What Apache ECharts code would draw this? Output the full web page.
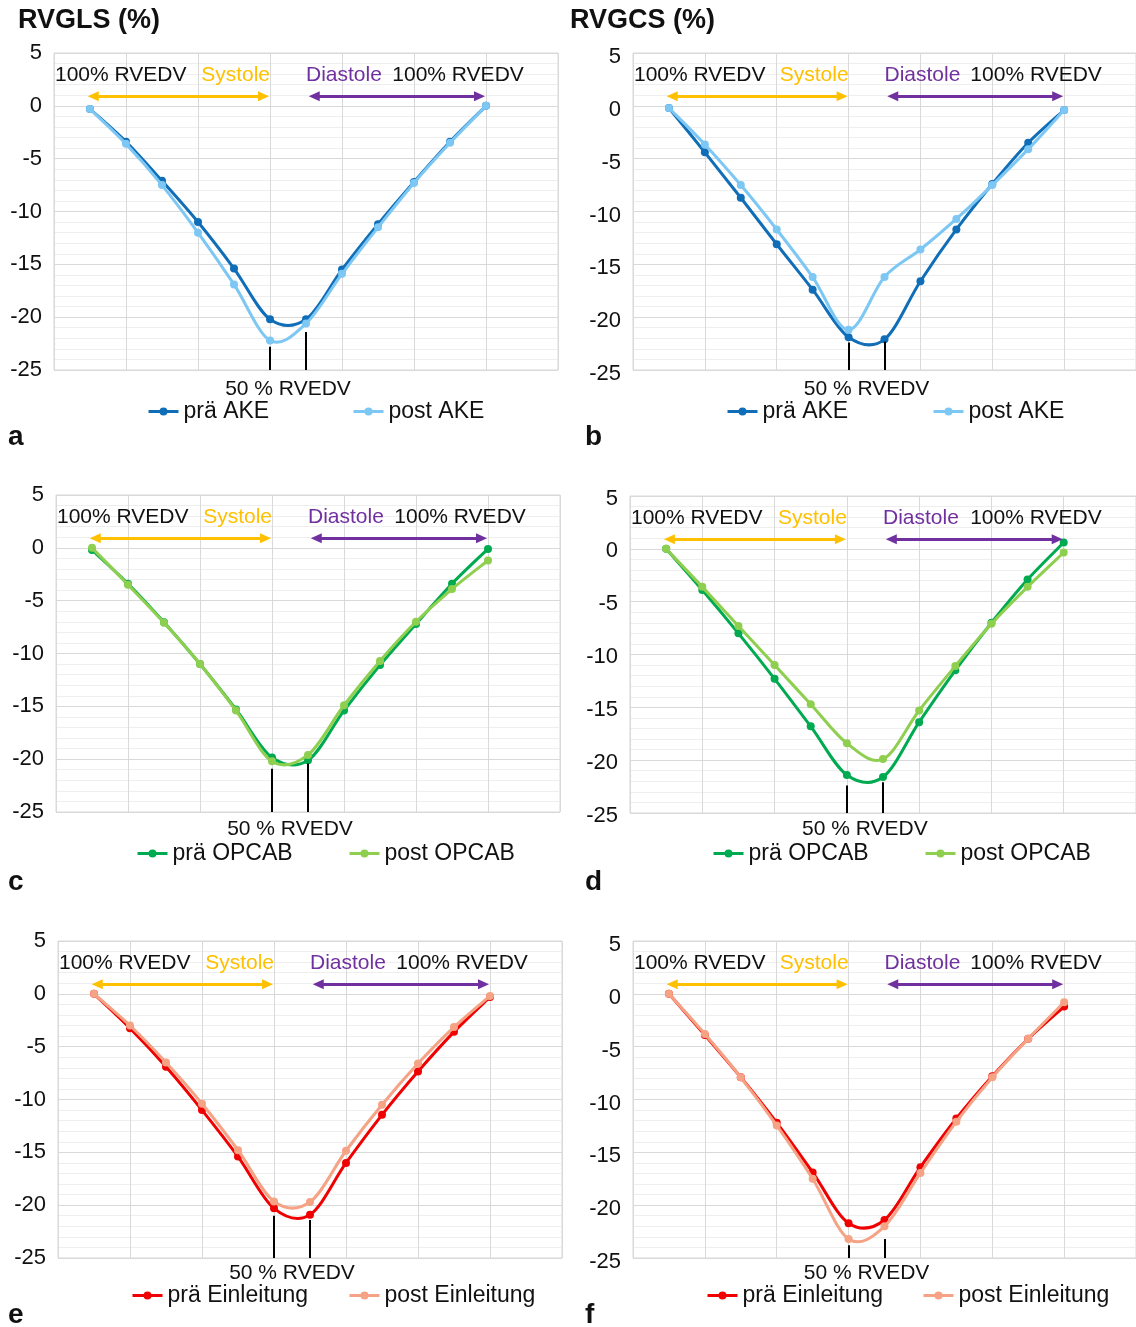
<!DOCTYPE html>
<html>
<head>
<meta charset="utf-8">
<script src="https://cdn.jsdelivr.net/npm/echarts@6/dist/echarts.min.js"></script>
<style>
html,body{margin:0;padding:0;background:#fff;}
#c{width:1136px;height:1327px;}
</style>
</head>
<body>
<div id="c"></div>
<script>
// ---- data ----
const xPoints = [1,2,3,4,5,6,7,8,9,10,11,12];
const yTickMin = -25, yTickMax = 5, yTickStep = 5;

const aPre  = [-0.3,-3.4,-7.1,-11.0,-15.4,-20.2,-20.2,-15.5,-11.2,-7.2,-3.4,0.0];
const aPost = [-0.3,-3.6,-7.5,-12.0,-16.9,-22.2,-20.6,-15.9,-11.5,-7.3,-3.5,0.0];
const bPre  = [-0.2,-4.4,-8.7,-13.1,-17.4,-21.9,-22.1,-16.6,-11.7,-7.4,-3.5,-0.4];
const bPost = [-0.2,-3.65,-7.5,-11.7,-16.2,-21.2,-16.2,-13.6,-10.7,-7.5,-4.1,-0.4];
const cPre  = [-0.2,-3.4,-7.05,-11.0,-15.3,-19.85,-20.1,-15.4,-11.1,-7.2,-3.4,-0.1];
const cPost = [0.0,-3.5,-7.1,-11.0,-15.4,-20.2,-19.6,-14.9,-10.7,-7.0,-3.9,-1.2];
const dPre  = [0.0,-3.9,-8.0,-12.3,-16.8,-21.4,-21.6,-16.4,-11.5,-7.0,-2.9,0.6];
const dPost = [0.0,-3.6,-7.3,-11.0,-14.7,-18.4,-19.9,-15.3,-11.1,-7.1,-3.6,-0.35];
const ePre  = [0.0,-3.25,-6.9,-11.0,-15.4,-20.3,-20.9,-16.0,-11.45,-7.35,-3.6,-0.3];
const ePost = [0.0,-3.0,-6.5,-10.4,-14.8,-19.65,-19.7,-14.85,-10.5,-6.6,-3.15,-0.2];
const fPre  = [0.0,-3.9,-7.9,-12.2,-16.9,-21.7,-21.4,-16.4,-11.8,-7.8,-4.25,-1.2];
const fPost = [0.0,-3.8,-7.9,-12.45,-17.5,-23.2,-22.0,-16.95,-12.1,-7.9,-4.25,-0.8];

// top ends of the two black markers at 50 % RVEDV (x = 6 and x = 7)
const aMarks = [-22.8,-21.4];
const bMarks = [-22.4,-22.3];
const cMarks = [-20.9,-20.4];
const dMarks = [-22.4,-22.1];
const eMarks = [-21.0,-21.4];
const fMarks = [-23.8,-23.2];

const namesAKE = ['prä AKE','post AKE'];
const namesOPCAB = ['prä OPCAB','post OPCAB'];
const namesEin = ['prä Einleitung','post Einleitung'];
const titles = ['RVGLS (%)','RVGCS (%)'];
const letters = ['a','b','c','d','e','f'];
const phaseTexts = ['100% RVEDV','Systole','Diastole','100% RVEDV'];
const midLabel = '50 % RVEDV';
const textLevel = 2.9, arrowLevel = 0.9;
const sysRange = [1.09, 5.82], diaRange = [7.23, 11.82];

// ---- styling / layout ----
const FONT = '"Liberation Sans", Arial, Helvetica, sans-serif';
const GOLD = '#FFC000', PURPLE = '#7030A0';
const panels = [
  {pre:aPre, post:aPost, names:namesAKE, colors:['#0F6EB7','#7CC7F4'], marks:aMarks,
   left:54, top:53, width:504, legL:[147,352], legY:413, midY:389, letterX:8, letterY:437, lblPad:0},
  {pre:bPre, post:bPost, names:namesAKE, colors:['#0F6EB7','#7CC7F4'], marks:bMarks,
   left:633, top:53, width:508, legL:[726,932], legY:413, midY:389, letterX:585, letterY:437, lblPad:8},
  {pre:cPre, post:cPost, names:namesOPCAB, colors:['#00AA50','#8FCF4F'], marks:cMarks,
   left:56, top:495, width:504, legL:[136,348], legY:855, midY:829, letterX:8, letterY:882, lblPad:0},
  {pre:dPre, post:dPost, names:namesOPCAB, colors:['#00AA50','#8FCF4F'], marks:dMarks,
   left:630, top:496, width:510, legL:[712,924], legY:855, midY:829, letterX:585, letterY:882, lblPad:5},
  {pre:ePre, post:ePost, names:namesEin, colors:['#F00000','#F5A285'], marks:eMarks,
   left:58, top:941, width:504, legL:[131,348], legY:1297, midY:1273, letterX:8, letterY:1315, lblPad:0},
  {pre:fPre, post:fPost, names:namesEin, colors:['#F00000','#F5A285'], marks:fMarks,
   left:633, top:941, width:508, legL:[706,922], legY:1297, midY:1273, letterX:585, letterY:1315, lblPad:8}
];
const PH = 317;
const LW = 3;

// Excel-like (Catmull-Rom) smoothed curve drawn through the library's coordinate system
function curveSeries(i, data, color, z) {
  return {
    type:'custom', xAxisIndex:i, yAxisIndex:i, data:data, z:z, silent:true, animation:false,
    renderItem:function(params, api) {
      const n = params.dataInsideLength, k = params.dataIndexInside;
      if (k >= n - 1) return null;
      const P = function(j) {
        const jj = Math.max(0, Math.min(n - 1, j));
        return api.coord([api.value(0, jj), api.value(1, jj)]);
      };
      const p0 = P(k - 1), p1 = P(k), p2 = P(k + 1), p3 = P(k + 2);
      const t = 1 / 6;
      return {
        type:'bezierCurve',
        shape:{x1:p1[0], y1:p1[1], x2:p2[0], y2:p2[1],
          cpx1:p1[0] + (p2[0] - p0[0]) * t, cpy1:p1[1] + (p2[1] - p0[1]) * t,
          cpx2:p2[0] - (p3[0] - p1[0]) * t, cpy2:p2[1] - (p3[1] - p1[1]) * t},
        style:{stroke:color, lineWidth:LW, fill:null, lineCap:'round'}
      };
    }
  };
}

const grids = [], xAxes = [], yAxes = [], series = [], legends = [];
panels.forEach((p, i) => {
  grids.push({left:p.left, top:p.top, width:p.width, height:PH, show:true,
    borderColor:'#D9D9D9', borderWidth:1, containLabel:false});
  xAxes.push({type:'value', gridIndex:i, min:0, max:14, interval:2,
    axisLabel:{show:false}, axisTick:{show:false}, axisLine:{show:false},
    splitLine:{show:true, lineStyle:{color:'#D9D9D9', width:1}}});
  yAxes.push({type:'value', gridIndex:i, min:yTickMin, max:yTickMax, interval:yTickStep,
    axisLabel:{fontSize:22, color:'#111', fontFamily:FONT, margin:12,
      formatter:'{v|{value}}',
      rich:{v:{fontSize:22, color:'#111', fontFamily:FONT, padding:[p.lblPad, 0, 0, 0]}}},
    axisTick:{show:false}, axisLine:{show:false},
    splitLine:{show:true, lineStyle:{color:'#D9D9D9', width:1}},
    minorTick:{show:false, splitNumber:5},
    minorSplitLine:{show:true, lineStyle:{color:'#EEEEEE', width:1}}});
  const mk = (arr) => xPoints.map((x, k) => [x, arr[k]]);
  const blackLine = {color:'#000', width:2, type:'solid'};
  const gl = {color:GOLD, width:3, type:'solid'};
  const pl = {color:PURPLE, width:3, type:'solid'};

  series.push(curveSeries(i, mk(p.pre), p.colors[0], 2));
  series.push({
    type:'line', name:p.names[0], xAxisIndex:i, yAxisIndex:i, data:mk(p.pre),
    smooth:false, symbol:'circle', symbolSize:8, showSymbol:true,
    lineStyle:{width:LW, color:p.colors[0], opacity:0}, itemStyle:{color:p.colors[0]},
    animation:false, z:3,
    markLine:{silent:true, animation:false, symbol:['none','none'],
      label:{show:false}, lineStyle:blackLine,
      data:[
        [{coord:[6, yTickMin], lineStyle:blackLine}, {coord:[6, p.marks[0]]}],
        [{coord:[7, yTickMin], lineStyle:blackLine}, {coord:[7, p.marks[1]]}]
      ]}
  });
  series.push(curveSeries(i, mk(p.post), p.colors[1], 4));
  series.push({
    type:'line', name:p.names[1], xAxisIndex:i, yAxisIndex:i, data:mk(p.post),
    smooth:false, symbol:'circle', symbolSize:8, showSymbol:true,
    lineStyle:{width:LW, color:p.colors[1], opacity:0}, itemStyle:{color:p.colors[1]},
    animation:false, z:5,
    markLine:{silent:true, animation:false, symbol:['triangle','triangle'], symbolSize:[10,11],
      label:{show:false},
      data:[
        [{coord:[sysRange[0], arrowLevel], lineStyle:gl, itemStyle:{color:GOLD}},
         {coord:[sysRange[1], arrowLevel], lineStyle:gl, itemStyle:{color:GOLD}}],
        [{coord:[diaRange[0], arrowLevel], lineStyle:pl, itemStyle:{color:PURPLE}},
         {coord:[diaRange[1], arrowLevel], lineStyle:pl, itemStyle:{color:PURPLE}}]
      ]}
  });
  p.names.forEach((nm, j) => {
    legends.push({data:[{name:nm, lineStyle:{opacity:1, width:LW, color:p.colors[j]}}],
      left:p.legL[j], top:p.legY - 13, padding:0,
      itemWidth:30, itemHeight:10, selectedMode:false,
      lineStyle:{opacity:1},
      textStyle:{fontSize:23, color:'#111', fontFamily:FONT}});
  });
});

const chart = echarts.init(document.getElementById('c'), null, {renderer:'canvas'});
chart.setOption({
  backgroundColor:'#fff',
  animation:false,
  grid:grids, xAxis:xAxes, yAxis:yAxes, series:series, legend:legends
});

// ---- annotation texts anchored to the data coordinates ----
const graphics = [];
const txt = (x, y, text, color, size, align, weight) => graphics.push({
  type:'text', x:x, y:y, silent:true, z:100,
  style:{text:text, fill:color, font:(weight||'normal') + ' ' + size + 'px ' + FONT,
    align:align, verticalAlign:'middle'}
});
panels.forEach((p, i) => {
  const px = (x, y) => chart.convertToPixel({gridIndex:i}, [x, y]);
  const ty = px(0, textLevel)[1];
  txt(px(0, 0)[0] + 1, ty, phaseTexts[0], '#111', 21, 'left');
  txt(px(6, 0)[0], ty, phaseTexts[1], GOLD, 21, 'right');
  txt(px(7, 0)[0], ty, phaseTexts[2], PURPLE, 21, 'left');
  txt(px(13.05, 0)[0], ty, phaseTexts[3], '#111', 21, 'right');
  txt(px(6.5, 0)[0], p.midY, midLabel, '#111', 21, 'center');
  txt(p.letterX, p.letterY, letters[i], '#111', 28, 'left', 'bold');
});
txt(18, 21, titles[0], '#111', 27, 'left', 'bold');
txt(570, 21, titles[1], '#111', 27, 'left', 'bold');
chart.setOption({graphic:graphics});
</script>
</body>
</html>
